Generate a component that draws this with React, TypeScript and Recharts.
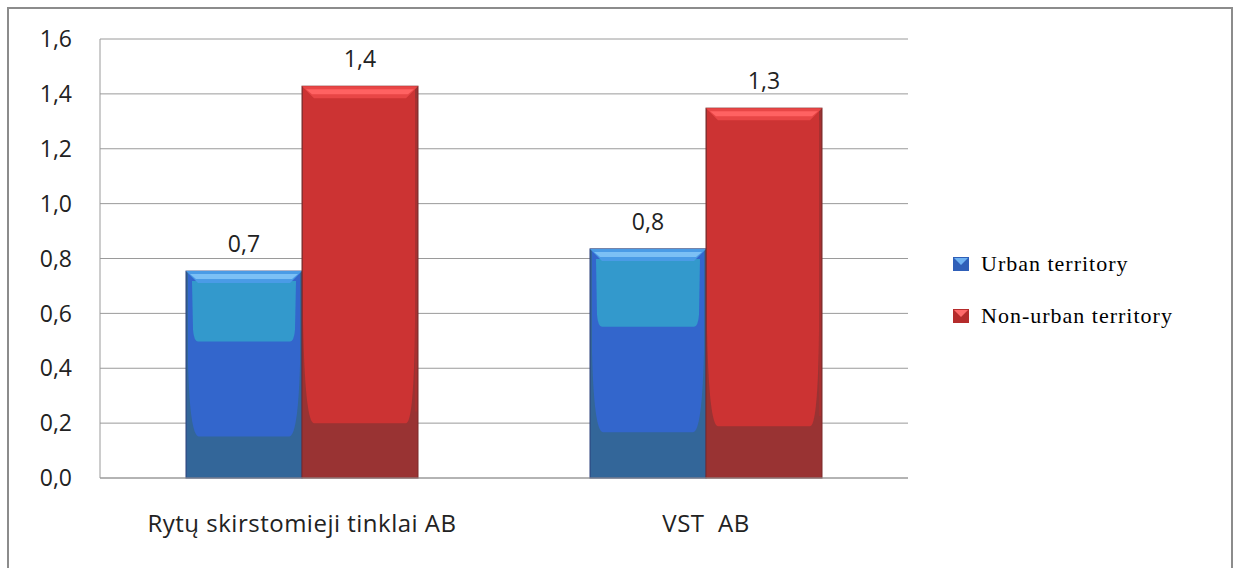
import { Bar, BarChart, CartesianGrid, LabelList, XAxis, YAxis } from "recharts";

const companies = ["Rytų skirstomieji tinklai AB", "VST\u00a0 AB"];
const urbanValues = [0.754, 0.835];
const nonUrbanValues = [1.428, 1.348];
const urbanLabels = ["0,7", "0,8"];
const nonUrbanLabels = ["1,4", "1,3"];
const yTicks = [0, 0.2, 0.4, 0.6, 0.8, 1.0, 1.2, 1.4, 1.6];
const seriesNames = ["Urban territory", "Non-urban territory"];

const data = companies.map((name, i) => ({
  name,
  urban: urbanValues[i],
  nonUrban: nonUrbanValues[i],
  urbanLabel: urbanLabels[i],
  nonUrbanLabel: nonUrbanLabels[i]
}));

const FONT = "'Open Sans', sans-serif";
const fmt = (v) => v.toFixed(1).replace(".", ",");

const UrbanBar = (props) => {
  const { x, y, width: w, height: h } = props;
  if (!h || h <= 0) return null;
  const midEnd = y + h * 0.8;
  const lightEnd = y + h * 0.34;
  return (
    <g>
      <rect x={x} y={y} width={w} height={h} fill="#336699" stroke="#2a3f7a" strokeWidth={1} />
      <path
        d={`M${x + 2},${y} L${x + 2},${y + h * 0.45} Q${x + 4},${midEnd} ${x + 13},${midEnd}
            L${x + w - 13},${midEnd} Q${x + w - 4},${midEnd} ${x + w - 2},${y + h * 0.45} L${x + w - 2},${y} Z`}
        fill="#3366cc"
      />
      <path
        d={`M${x + 6},${y + 10} L${x + 7},${lightEnd - 12} Q${x + 8},${lightEnd} ${x + 12},${lightEnd}
            L${x + w - 12},${lightEnd} Q${x + w - 8},${lightEnd} ${x + w - 7},${lightEnd - 12} L${x + w - 6},${y + 10} Z`}
        fill="#3399cc"
      />
      <polygon
        points={`${x},${y} ${x + w},${y} ${x + w - 12},${y + 12} ${x + 12},${y + 12}`}
        fill="#4a9be6"
      />
      <polygon
        points={`${x + 4},${y + 3} ${x + w - 4},${y + 3} ${x + w - 10},${y + 8} ${x + 10},${y + 8}`}
        fill="#7cc0f5"
      />
    </g>
  );
};

const NonUrbanBar = (props) => {
  const { x, y, width: w, height: h } = props;
  if (!h || h <= 0) return null;
  const midEnd = y + h * 0.86;
  return (
    <g>
      <rect x={x} y={y} width={w} height={h} fill="#993333" stroke="#7a2a2a" strokeWidth={1} />
      <path
        d={`M${x + 1},${y} L${x + 1},${y + h * 0.6} Q${x + 3},${midEnd} ${x + 12},${midEnd}
            L${x + w - 12},${midEnd} Q${x + w - 4},${midEnd} ${x + w - 3},${y + h * 0.6} L${x + w - 3},${y} Z`}
        fill="#cc3333"
      />
      <rect x={x + w - 3} y={y + 12} width={2} height={h * 0.8} fill="#a83030" />
      <polygon
        points={`${x},${y} ${x + w},${y} ${x + w - 12},${y + 12} ${x + 12},${y + 12}`}
        fill="#e84646"
      />
      <polygon
        points={`${x + 4},${y + 3} ${x + w - 4},${y + 3} ${x + w - 10},${y + 8} ${x + 10},${y + 8}`}
        fill="#ff6262"
      />
    </g>
  );
};

const markerColors = [
  { base: "#2f5fb8", light: "#6fb2f2" },
  { base: "#b52c2c", light: "#ff6a6a" }
];

const ChartLegend = () => (
  <div style={{ position: "absolute", left: 944, top: 229, width: 270 }}>
    {seriesNames.map((name, i) => (
      <div key={name} style={{ display: "flex", alignItems: "center", height: 52 }}>
        <svg width={16} height={14} style={{ marginRight: 12 }}>
          <rect x={0} y={0} width={16} height={14} fill={markerColors[i].base} />
          <polygon points="1,1 15,1 8,8" fill={markerColors[i].light} />
        </svg>
        <span
          style={{
            fontFamily: "'Liberation Serif', 'Times New Roman', serif",
            fontSize: 22,
            letterSpacing: 1,
            color: "#000"
          }}
        >
          {name}
        </span>
      </div>
    ))}
  </div>
);

export default function App() {
  return (
    <div
      style={{
        position: "fixed",
        left: 7,
        top: 7,
        width: 1222,
        height: 600,
        border: "2px solid #8c8c8c",
        background: "#fff",
        overflow: "hidden"
      }}
    >
      <BarChart
        width={1222}
        height={580}
        data={data}
        margin={{ top: 30, right: 323, left: 0, bottom: 51 }}
        barCategoryGap={86}
        barGap={0}
      >
        <CartesianGrid vertical={false} stroke="#9a9a9a" />
        <XAxis
          dataKey="name"
          height={60}
          stroke="#9a9a9a"
          tickLine={false}
          tickSize={0}
          tickMargin={37}
          tick={{ fill: "#222", fontSize: 24, fontFamily: FONT, letterSpacing: 0.5 }}
        />
        <YAxis
          width={91}
          domain={[0, 1.6]}
          ticks={yTicks}
          tickFormatter={fmt}
          stroke="#9a9a9a"
          tickLine={false}
          tickSize={0}
          tickMargin={28}
          tick={{ fill: "#222", fontSize: 23, fontFamily: FONT }}
        />
        <Bar dataKey="urban" name={seriesNames[0]} fill="#3366cc" shape={UrbanBar} isAnimationActive={false}>
          <LabelList dataKey="urbanLabel" position="top" offset={19} fill="#222" fontSize={23} fontFamily={FONT} />
        </Bar>
        <Bar dataKey="nonUrban" name={seriesNames[1]} fill="#cc3333" shape={NonUrbanBar} isAnimationActive={false}>
          <LabelList dataKey="nonUrbanLabel" position="top" offset={19} fill="#222" fontSize={23} fontFamily={FONT} />
        </Bar>
      </BarChart>
      <ChartLegend />
    </div>
  );
}
